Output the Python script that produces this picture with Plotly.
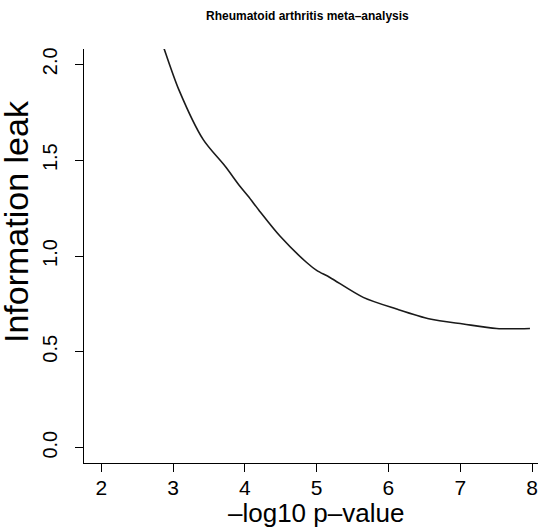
import plotly.graph_objects as go

# Data
neglog10_p = [2.80, 2.873, 3.082, 3.421, 3.726, 3.932, 4.047, 4.206, 4.489, 4.861, 5.00, 5.185, 5.649, 6.114, 6.578, 7.042, 7.507, 7.971]
info_leak = [2.16, 2.084, 1.867, 1.607, 1.468, 1.364, 1.312, 1.234, 1.104, 0.966, 0.925, 0.888, 0.784, 0.723, 0.671, 0.645, 0.622, 0.622]

x_ticks = [2, 3, 4, 5, 6, 7, 8]
y_ticks = [0.0, 0.5, 1.0, 1.5, 2.0]
y_tick_labels = ["0.0", "0.5", "1.0", "1.5", "2.0"]

title_text = "<b>Rheumatoid arthritis meta–analysis</b>"
x_title = "–log10 p–value"
y_title = "Information leak"

FONT = "Liberation Sans, Arial, Helvetica, sans-serif"

fig = go.Figure()
fig.add_trace(go.Scatter(
    x=neglog10_p, y=info_leak, mode="lines",
    line=dict(color="#1a1a1a", width=1.6, shape="spline", smoothing=0.8),
    showlegend=False, hoverinfo="skip",
))

W, H = 538, 532
L, R, T, B = 84, 0, 49, 69
pw, ph = W - L - R, H - T - B

fig.update_layout(
    width=W, height=H,
    margin=dict(l=L, r=R, t=T, b=B, pad=0, autoexpand=False),
    paper_bgcolor="white", plot_bgcolor="white",
    font=dict(family=FONT, color="black"),
    showlegend=False,
    xaxis=dict(
        range=[1.76, 1.76 + pw / 71.8], automargin=False,
        tickmode="array", tickvals=x_ticks, ticktext=[str(v) for v in x_ticks],
        ticks="outside", ticklen=8, tickwidth=1, tickcolor="black",
        showline=True, linecolor="black", linewidth=1,
        showgrid=False, zeroline=False, ticklabelstandoff=-2,
        tickfont=dict(size=21, family=FONT, color="black"),
    ),
    yaxis=dict(
        range=[-0.08, 2.08], automargin=False,
        tickmode="array", tickvals=y_ticks, ticktext=y_tick_labels,
        ticks="outside", ticklen=8, tickwidth=1, tickcolor="black",
        showline=True, linecolor="black", linewidth=1,
        showgrid=False, zeroline=False, tickangle=-90,
        ticklabelstandoff=10,
        tickfont=dict(size=20, family=FONT, color="black"),
    ),
    annotations=[
        dict(text=title_text, xref="paper", yref="paper",
             x=(307 - L) / pw, y=1 + (T - 16) / ph, xanchor="center", yanchor="middle",
             showarrow=False, font=dict(size=12, family=FONT, color="black")),
        dict(text=x_title, xref="paper", yref="paper",
             x=(316 - L) / pw, y=-(513 - (H - B)) / ph, xanchor="center", yanchor="middle",
             showarrow=False, font=dict(size=26, family=FONT, color="black")),
        dict(text=y_title, xref="paper", yref="paper", textangle=-90,
             x=(16 - L) / pw, y=1 - (222 - T) / ph, xanchor="center", yanchor="middle",
             showarrow=False, font=dict(size=34, family=FONT, color="black")),
    ],
)

fig.write_html("out.html", config={"displayModeBar": False},
               post_script="document.body.style.margin='0';")
